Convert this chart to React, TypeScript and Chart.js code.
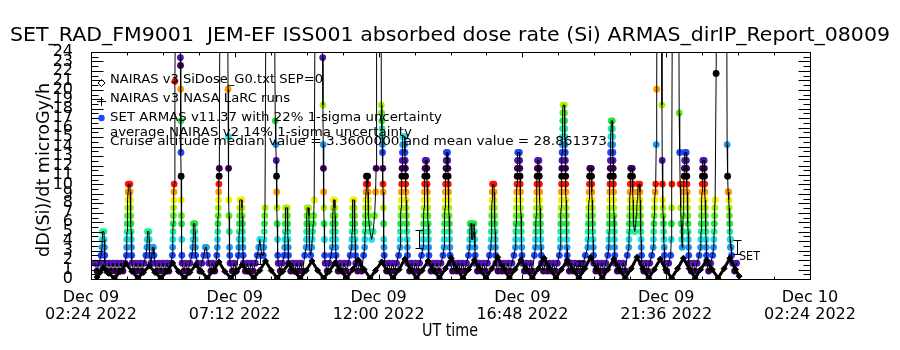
import React, { useEffect, useRef } from "react";
import { Chart, registerables } from "chart.js";

Chart.register(...registerables);

// ---------------- texts ----------------
const chartTitle = "SET_RAD_FM9001  JEM-EF ISS001 absorbed dose rate (Si) ARMAS_dirIP_Report_08009";
const yAxisTitle = "dD(Si)/dt microGy/h";
const xAxisTitle = "UT time";
const legendNairasG0 = "NAIRAS v3 SiDose_G0.txt SEP=0";
const legendNairasLarc = "NAIRAS v3 NASA LaRC runs";
const legendSet = "SET ARMAS v11.37 with 22% 1-sigma uncertainty";
const legendAverage = "average NAIRAS v2 14% 1-sigma uncertainty";
const legendCruise = "Cruise altitude median value = 3.3600000 and mean value = 28.861373";
const setLabel = "SET";

// ---------------- axes ----------------
// x values are minutes after Dec 09 02:24 UT
const xTickMinutes = [0, 288, 576, 864, 1152, 1440];
const xTickDates = ["Dec 09", "Dec 09", "Dec 09", "Dec 09", "Dec 09", "Dec 10"];
const xTickTimes = ["02:24 2022", "07:12 2022", "12:00 2022", "16:48 2022", "21:36 2022", "02:24 2022"];
const xMinorStepMin = 72;
const yRange = [0, 24];

// ---------------- SET ARMAS data: [minute, count level] ----------------
const DOSE_PER_COUNT = 0.836; // microGy/h per count level
const setCountsA: [number, number][] = [
  [8,2],[12,1],[16,2],[20,3],
  [22,4],[22.5,5],[23,6],[26,6],[26.5,5],[27,4],[27.5,3],[28,2],
  [32,1],[36,2],[40,1],[44,2],[48,1],[52,2],[56,1],[60,2],[64,1],[68,2],
  [71,3],[71.4,4],[71.8,5],[72.2,6],[72.6,7],[73,8],[73.4,9],[73.8,10],[74.2,11],[74.6,12],[78,12],[78.4,11],[78.8,10],[79.2,9],[79.6,8],[80,7],[80.4,6],[80.8,5],[81.2,4],[81.6,3],[82,2],
  [86,1],[90,2],[94,1],[98,2],[102,1],[106,2],[110,3],
  [112,4],[112.5,5],[113,6],[116,6],[116.5,5],[117,4],[117.5,3],[120,2],[122,3],[123,4],[125,4],[126,3],[128,2],
  [132,1],[136,2],[140,1],[144,2],[148,1],[152,2],[156,1],[160,2],
  [163,3],[163.4,4],[163.8,5],[164.2,6],[164.6,7],[165,8],[165.4,9],[165.8,10],[166.2,11],[166.6,12],[168,25],[170,40],[172,80],[174,120],[176,90],[178,40],[179,28],[179.3,27],[179.6,24],[179.9,20],[180.2,16],[180.5,13],[180.8,10],[181.1,8],[181.4,7],[181.7,5],[182,3],[182.4,2],
  [186,1],[190,2],[194,1],[198,2],[202,3],
  [204,4],[204.4,5],[204.8,6],[205.2,7],[208,7],[208.4,6],[208.8,5],[209.2,4],[209.6,3],
  [214,2],[218,1],[222,2],[226,3],[229,4],[231,4],[233,3],[236,2],
  [240,1],[244,2],[248,1],[252,3],
  [253,4],[253.4,5],[253.8,6],[254.2,7],[254.6,8],[255,9],[255.4,10],[255.8,11],[256.2,12],[256.6,13],[257,14],[259,50],[262,110],[266,150],[270,90],[273,45],[274.5,24],[275,18],[275.5,14],[276,10],[276.5,8],[277,6],[277.5,4],[278,3],[278.5,2],
  [283,1],[287,2],[291,1],[295,3],
  [296,4],[296.4,5],[296.8,6],[297.2,7],[297.6,8],[298,9],[298.4,10],[302,10],[302.4,9],[302.8,8],[303.2,7],[303.6,6],[304,5],[304.4,4],[304.8,3],[305.2,2],
  [309,1],[313,2],[317,1],[321,2],[325,1],[329,2],[333,3],[336,4],[338,5],[340,4],[342,3],
  [345,3],[346,4],[346.5,5],[347,6],[347.5,7],[348,8],[348.5,9],[351,45],[355,100],[360,130],[365,60],[369,20],[370,17],[371,15],[371.5,13],[372,11],[372.5,9],[373,7],[373.5,5],[374,3],[375,2],
  [379,1],[383,2],[387,3],
  [388,4],[388.4,5],[388.8,6],[389.2,7],[389.6,8],[390,9],[393,9],[393.4,8],[393.8,7],[394.2,6],[394.6,5],[395,4],[395.4,3],[395.8,2],
  [400,1],[404,2],[408,1],[412,2],[416,1],[420,2],[424,1],[428,3],
  [431,4],[431.4,5],[431.8,6],[432.2,7],[432.6,8],[433,9],[436,9],[436.4,8],[436.8,7],[437.2,6],[437.6,5],[438,4],[440,3],[442,4],[443,5],[444,6],[445,7],[446,8],[447,10],[449,40],[453,90],[458,120],[462,50],[464,28],[464.5,22],[465,17],[465.5,14],[466,11],[466.5,9],[467,7],[467.5,5],[468,3],[469,2],
];
const setCountsB: [number, number][] = [
  [473,1],[477,2],[481,3],
  [483,4],[483.4,5],[483.8,6],[484.2,7],[484.6,8],[485,9],[485.4,10],[488,10],[488.4,9],[488.8,8],[489.2,7],[489.6,6],[490,5],[490.4,4],[490.8,3],[491.2,2],
  [495,1],[499,2],[503,1],[507,2],[511,1],[515,2],[519,3],
  [522,4],[522.4,5],[522.8,6],[523.2,7],[523.6,8],[524,9],[524.4,10],[527,10],[527.4,9],[527.8,8],[528.2,7],[528.6,6],[529,5],[529.4,4],[529.8,3],[530.2,2],
  [534,1],[538,2],[542,1],[546,3],
  [548,4],[548.4,5],[548.8,6],[549.2,7],[549.6,8],[550,9],[550.4,10],[550.8,11],[551.2,12],[551.6,13],[554,13],[554.4,12],[554.8,11],[555.2,10],[555.6,9],[556,8],[557,7],[559,6],[562,5],[565,6],[568,8],[570,11],[571,14],[572,40],[576,100],[580,60],[581.5,22],[582,21],[582.4,20],[582.8,19],[583.2,18],[583.6,17],[584,16],[584.4,14],[584.8,12],[585.2,11],[585.6,9],[586,7],[586.4,5],[586.8,4],[587.2,3],[588,2],
  [592,1],[596,2],[600,1],[604,2],[608,1],[612,2],[616,3],
  [619,4],[619.4,5],[619.8,6],[620.2,7],[620.6,8],[621,9],[621.4,10],[621.8,11],[622.2,12],[622.6,13],[623,14],[623.4,15],[623.8,16],[624.2,17],[624.6,18],[628,18],[628.4,17],[628.8,16],[629.2,15],[629.6,14],[630,13],[630.4,12],[630.8,11],[631.2,10],[631.6,9],[632,8],[632.4,7],[632.8,6],[633.2,5],[633.6,4],[634,3],[634.4,2],
  [638,1],[642,2],[646,1],[650,2],[654,1],[658,2],[662,3],
  [665,4],[665.4,5],[665.8,6],[666.2,7],[666.6,8],[667,9],[667.4,10],[667.8,11],[668.2,12],[668.6,13],[669,14],[669.4,15],[672,15],[672.4,14],[672.8,13],[673.2,12],[673.6,11],[674,10],[674.4,9],[674.8,8],[675.2,7],[675.6,6],[676,5],[676.4,4],[676.8,3],[677.2,2],
  [681,1],[685,2],[689,1],[693,2],[697,1],[701,2],[705,3],
  [707,4],[707.4,5],[707.8,6],[708.2,7],[708.6,8],[709,9],[709.4,10],[709.8,11],[710.2,12],[710.6,13],[711,14],[711.4,15],[711.8,16],[714,16],[714.4,15],[714.8,14],[715.2,13],[715.6,12],[716,11],[716.4,10],[716.8,9],[717.2,8],[717.6,7],[718,6],[718.4,5],[718.8,4],[719.2,3],[719.6,2],
  [724,1],[728,2],[732,1],[736,2],[740,1],[744,2],[748,1],[752,2],[756,3],
  [758,4],[758.5,5],[759,6],[759.5,7],[762,7],[762.5,6],[763,5],[765,5],[766,6],[767,7],[768,6],[768.5,5],[769,4],[769.5,3],[770,2],
  [774,1],[778,2],[782,1],[786,2],[790,1],[794,2],[798,3],
  [801,4],[801.4,5],[801.8,6],[802.2,7],[802.6,8],[803,9],[803.4,10],[803.8,11],[804.2,12],[807,12],[807.4,11],[807.8,10],[808.2,9],[808.6,8],[809,7],[809.4,6],[809.8,5],[810.2,4],[810.6,3],[811,2],
  [815,1],[819,2],[823,1],[827,2],[831,1],[835,2],[839,1],[843,2],[847,3],
  [850,4],[850.4,5],[850.8,6],[851.2,7],[851.6,8],[852,9],[852.4,10],[852.8,11],[853.2,12],[853.6,13],[854,14],[854.4,15],[854.8,16],[858,16],[858.4,15],[858.8,14],[859.2,13],[859.6,12],[860,11],[860.4,10],[860.8,9],[861.2,8],[861.6,7],[862,6],[862.4,5],[862.8,4],[863.2,3],[863.6,2],
  [868,1],[872,2],[876,1],[880,2],[884,1],[888,3],
  [890,4],[890.4,5],[890.8,6],[891.2,7],[891.6,8],[892,9],[892.4,10],[892.8,11],[893.2,12],[893.6,13],[894,14],[894.4,15],[897,15],[897.4,14],[897.8,13],[898.2,12],[898.6,11],[899,10],[899.4,9],[899.8,8],[900.2,7],[900.6,6],[901,5],[901.4,4],[901.8,3],[902.2,2],
];
const setCountsC: [number, number][] = [
  [906,1],[910,2],[914,1],[918,2],[922,1],[926,2],[930,1],[934,2],[938,3],
  [940,4],[940.3,5],[940.6,6],[940.9,7],[941.2,8],[941.5,9],[941.8,10],[942.1,11],[942.4,12],[942.7,13],[943,14],[943.3,15],[943.6,16],[943.9,17],[944.2,18],[944.5,19],[944.8,20],[945.1,21],[945.4,22],[948,22],[948.3,21],[948.6,20],[948.9,19],[949.2,18],[949.5,17],[949.8,16],[950.1,15],[950.4,14],[950.7,13],[951,12],[951.3,11],[951.6,10],[951.9,9],[952.2,8],[952.5,7],[952.8,6],[953.1,5],[953.4,4],[953.7,3],[954,2],
  [958,1],[962,2],[966,1],[970,2],[974,1],[978,2],[982,1],[986,2],[990,3],
  [995,4],[995.4,5],[995.8,6],[996.2,7],[996.6,8],[997,9],[997.4,10],[997.8,11],[998.2,12],[998.6,13],[999,14],[1002,14],[1002.4,13],[1002.8,12],[1003.2,11],[1003.6,10],[1004,9],[1004.4,8],[1004.8,7],[1005.2,6],[1005.6,5],[1006,4],[1006.4,3],[1006.8,2],
  [1011,1],[1015,2],[1019,1],[1023,2],[1027,1],[1031,2],[1035,3],
  [1037,4],[1037.3,5],[1037.6,6],[1037.9,7],[1038.2,8],[1038.5,9],[1038.8,10],[1039.1,11],[1039.4,12],[1039.7,13],[1040,14],[1040.3,15],[1040.6,16],[1040.9,17],[1041.2,18],[1041.5,19],[1041.8,20],[1044,20],[1044.3,19],[1044.6,18],[1044.9,17],[1045.2,16],[1045.5,15],[1045.8,14],[1046.1,13],[1046.4,12],[1046.7,11],[1047,10],[1047.3,9],[1047.6,8],[1047.9,7],[1048.2,6],[1048.5,5],[1048.8,4],[1049.1,3],[1049.4,2],
  [1054,1],[1058,2],[1062,1],[1066,2],[1070,1],[1074,3],
  [1077,4],[1077.4,5],[1077.8,6],[1078.2,7],[1078.6,8],[1079,9],[1079.4,10],[1079.8,11],[1080.2,12],[1080.6,13],[1081,14],[1084,14],[1084.4,13],[1084.8,12],[1085.2,11],[1085.6,10],[1086,9],[1086.4,8],[1087,7],[1089,6],[1091,7],[1092,8],[1093,9],[1094,10],[1095,11],[1096,12],[1099,12],[1099.4,11],[1099.8,10],[1100.2,9],[1100.6,8],[1101,7],[1101.4,6],[1101.8,5],[1102.2,4],[1102.6,3],[1103,2],
  [1107,1],[1111,2],[1115,1],[1119,2],[1123,3],
  [1126,4],[1126.5,5],[1127,6],[1127.5,7],[1128,8],[1128.5,9],[1129,10],[1130,11],[1131,12],[1132,17],[1133,24],[1134,50],[1138,110],[1142,60],[1143.5,22],[1144,15],[1144.5,12],[1145,10],[1145.5,9],[1146,8],[1146.5,7],[1147,6],[1147.5,5],[1148,4],[1148.5,3],[1149,2],
  [1153,1],[1157,2],[1161,3],
  [1162,5],[1162.5,7],[1163,9],[1163.5,12],[1164,30],[1168,90],[1174,120],[1177,40],[1178,21],[1179,16],[1180,12],[1181,9],[1182,7],[1183,5],[1184,4],[1185,6],[1186,8],[1186.5,10],[1187,11],[1187.5,12],[1188,13],[1188.5,14],[1189,15],[1189.5,16],[1192,16],[1192.4,15],[1192.8,14],[1193.2,13],[1193.6,12],[1194,11],[1194.4,10],[1194.8,9],[1195.2,8],[1195.6,7],[1196,6],[1196.4,5],[1196.8,4],[1197.2,3],[1197.6,2],
  [1202,1],[1206,2],[1210,1],[1214,2],[1218,3],
  [1221,4],[1221.4,5],[1221.8,6],[1222.2,7],[1222.6,8],[1223,9],[1223.4,10],[1223.8,11],[1224.2,12],[1224.6,13],[1225,14],[1225.4,15],[1228,15],[1228.4,14],[1228.8,13],[1229.2,12],[1229.6,11],[1230,10],[1230.4,9],[1230.8,8],[1231.2,7],[1231.6,6],[1232,5],[1232.4,4],[1232.8,3],[1233.2,2],
  [1237,1],[1241,2],[1245,3],
  [1247,4],[1247.5,5],[1248,6],[1248.5,7],[1249,8],[1249.5,9],[1250,10],[1252,26],[1256,60],[1262,130],[1268,90],[1273,40],[1274,17],[1275,13],[1276,11],[1277,11],[1277.5,10],[1278,9],[1278.5,8],[1279,7],[1279.5,6],[1280,5],[1280.5,4],[1281,5],[1282,4],[1283,3],[1285,2],[1289,1],[1293,2],
];

// ---------------- NAIRAS v3 model (microGy/h) ----------------
const nairasA: [number, number][] = [
  [12,0.2],[18,0.7],[24,1.2],[35,0.6],[47,0.1],[59,0.8],[70.5,1.6],[82,0.8],[94,0.1],[105,0.7],[117,1.4],[128,0.7],
  [140,0.1],[152,0.8],[163.5,1.7],[175,0.8],[187,0.1],[198,0.7],[210,1.5],[221,0.8],[233,0.1],[245,0.9],[256.5,1.8],[268,0.8],
  [280,0.1],[291,0.8],[303,1.5],[314,0.8],[326,0.1],[338,0.9],[349.5,1.9],[361,0.9],[373,0.1],[384,0.8],[396,1.6],[407,0.8],
  [419,0.1],[431,0.9],[442.5,1.9],[454,0.9],[466,0.1],[477,0.8],[489,1.7],[500,0.9],[512,0.1],[524,1.0],[535.5,2.0],[547,1.0],
  [559,0.1],[570,0.9],[582,1.8],[593,0.9],[605,0.1],[617,1.0],[628.5,2.1],[640,1.0],
];
const nairasB: [number, number][] = [
  [652,0.1],[663,0.9],[675,1.9],[686,0.9],[698,0.1],[710,1.1],[721.5,2.2],[733,1.0],[745,0.1],[756,1.0],[768,2.0],[779,1.0],
  [791,0.1],[803,1.1],[814.5,2.3],[826,1.1],[838,0.1],[849,1.0],[861,2.0],[872,1.0],[884,0.1],[896,1.1],[907.5,2.2],[919,1.1],
  [931,0.1],[942,1.0],[954,2.0],[965,1.0],[977,0.1],[989,1.1],[1000.5,2.3],[1012,1.1],[1024,0.1],[1035,1.0],[1047,2.1],[1058,1.0],
  [1070,0.1],[1082,1.1],[1093.5,2.3],[1105,1.1],[1117,0.1],[1128,1.0],[1140,2.1],[1151,1.0],[1163,0.1],[1175,1.1],[1186.5,2.2],[1198,1.1],
  [1210,0.1],[1221,1.0],[1233,2.0],[1244,1.0],[1256,0.1],[1268,1.1],[1279.5,2.2],[1291,1.0],[1298,0.3],
];

// ---------------- uncertainty bars ----------------
const errMinutes = [338, 657, 979, 1294];
const errLow = [1.6, 3.3, 1.4, 2.62];
const errHigh = [2.6, 5.2, 1.9, 4.1];

// colour table cycling with count level
const levelColors = [
  "#3c005a", "#5014b4", "#1e46ff", "#1e9bf0", "#1ee1e1", "#1ef096", "#1ee646",
  "#5af01e", "#aaf000", "#f0f000", "#ff9b00", "#ff1400", "#000000",
];

const FONT = '"DejaVu Sans", "Liberation Sans", sans-serif';

function drawFitted(
  ctx: CanvasRenderingContext2D, text: string, x: number, y: number,
  width: number, size: number, align: CanvasTextAlign, angle = 0
) {
  ctx.save();
  ctx.font = `${size}px ${FONT}`;
  const w = ctx.measureText(text).width || 1;
  ctx.translate(x, y);
  if (angle) ctx.rotate(angle);
  ctx.scale(width / w, 1);
  ctx.textAlign = align;
  ctx.textBaseline = "middle";
  ctx.fillStyle = "#000";
  ctx.fillText(text, 0, 0);
  ctx.restore();
}

function seg(ctx: CanvasRenderingContext2D, x1: number, y1: number, x2: number, y2: number) {
  ctx.beginPath();
  ctx.moveTo(x1, y1);
  ctx.lineTo(x2, y2);
  ctx.stroke();
}

const idlFrame = {
  id: "idlFrame",
  afterDatasetsDraw(chart: any) {
    const { ctx, scales } = chart;
    const xs = scales.x, ys = scales.y;
    ctx.save();
    ctx.strokeStyle = "#000";
    ctx.lineWidth = 1;
    errMinutes.forEach((m, i) => {
      const px = Math.round(xs.getPixelForValue(m)) + 0.5;
      const p1 = ys.getPixelForValue(errLow[i]);
      const p2 = ys.getPixelForValue(errHigh[i]);
      seg(ctx, px, p1, px, p2);
      seg(ctx, px - 4, Math.round(p1) + 0.5, px + 4, Math.round(p1) + 0.5);
      seg(ctx, px - 4, Math.round(p2) + 0.5, px + 4, Math.round(p2) + 0.5);
    });
    ctx.restore();
  },
  afterDraw(chart: any) {
    const { ctx, chartArea: a, scales } = chart;
    const xs = scales.x, ys = scales.y;
    ctx.save();
    ctx.strokeStyle = "#000";
    ctx.lineWidth = 1;
    const L = Math.round(a.left) + 0.5, R = Math.round(a.right) + 0.5;
    const T = Math.round(a.top) + 0.5, B = Math.round(a.bottom) + 0.5;
    ctx.strokeRect(L, T, R - L, B - T);
    // x ticks (major + minor), pointing inwards on bottom and top
    for (let m = xs.min; m <= xs.max + 1e-6; m += xMinorStepMin) {
      const px = Math.round(xs.getPixelForValue(m)) + 0.5;
      const major = xTickMinutes.indexOf(m) >= 0;
      const len = major ? 5 : 3;
      seg(ctx, px, B, px, B - len);
      seg(ctx, px, T, px, T + len);
    }
    // y ticks
    for (let v = yRange[0]; v <= yRange[1] + 1e-6; v += 0.5) {
      const py = Math.round(ys.getPixelForValue(v)) + 0.5;
      const len = Number.isInteger(v) ? 12 : 7;
      seg(ctx, L, py, L + len, py);
      seg(ctx, R, py, R - len, py);
    }
    // titles
    drawFitted(ctx, chartTitle, 450, 36, 880, 20, "center");
    drawFitted(ctx, yAxisTitle, 45, 170, 174, 17, "center", -Math.PI / 2);
    drawFitted(ctx, xAxisTitle, 450, 332, 56, 17, "center");
    // legend
    drawFitted(ctx, legendNairasG0, 110, 80, 213, 13, "left");
    drawFitted(ctx, legendNairasLarc, 110, 99, 180, 13, "left");
    drawFitted(ctx, legendSet, 110, 118, 332, 13, "left");
    drawFitted(ctx, legendAverage, 110, 133, 302, 13, "left");
    drawFitted(ctx, legendCruise, 110, 142, 497, 13, "left");
    // legend symbols
    ctx.beginPath();
    ctx.moveTo(101.5, 79.5); ctx.lineTo(105, 83); ctx.lineTo(101.5, 86.5); ctx.lineTo(98, 83); ctx.closePath();
    ctx.stroke();
    seg(ctx, 97, 101.5, 106, 101.5);
    seg(ctx, 101.5, 97, 101.5, 106);
    ctx.fillStyle = levelColors[2];
    ctx.beginPath();
    ctx.arc(101.5, 118, 3.2, 0, Math.PI * 2);
    ctx.fill();
    // SET label next to its bar
    drawFitted(ctx, setLabel, 739, 257, 21, 12, "left");
    ctx.restore();
  },
};

const toPoints = (rows: [number, number][]) =>
  rows.map(([t, c]) => ({ x: t, y: c * DOSE_PER_COUNT, c }));

export default function App() {
  const ref = useRef<HTMLCanvasElement | null>(null);

  useEffect(() => {
    if (!ref.current) return;
    const setPoints = [...toPoints(setCountsA), ...toPoints(setCountsB), ...toPoints(setCountsC)];
    const nairasPoints = [...nairasA, ...nairasB].map(([t, v]) => ({ x: t, y: v }));

    const chart = new Chart(ref.current, {
      type: "scatter",
      data: {
        datasets: [
          {
            label: "SET ARMAS",
            data: setPoints,
            showLine: false,
            pointRadius: 3.4,
            pointBorderWidth: 0,
            pointBackgroundColor: (c: any) =>
              c.raw && c.raw.c ? levelColors[(c.raw.c - 1) % levelColors.length] : "#000",
            order: 2,
          } as any,
          {
            label: "SET line",
            data: setPoints,
            showLine: true,
            borderColor: "#000",
            borderWidth: 1,
            pointRadius: 0,
            order: 1,
          } as any,
          {
            label: "NAIRAS v3",
            data: nairasPoints,
            showLine: true,
            borderColor: "#000",
            borderWidth: 3,
            pointStyle: "rectRot",
            pointRadius: 3,
            pointBackgroundColor: "#000",
            pointBorderColor: "#000",
            pointBorderWidth: 1,
            order: 0,
          } as any,
        ],
      },
      options: {
        animation: false,
        responsive: false,
        events: [],
        layout: { padding: { top: 52, right: 90, bottom: 0, left: 0 } },
        plugins: { legend: { display: false }, tooltip: { enabled: false }, title: { display: false } },
        scales: {
          x: {
            type: "linear",
            min: xTickMinutes[0],
            max: xTickMinutes[xTickMinutes.length - 1],
            grid: { display: false },
            border: { display: false },
            afterBuildTicks: (s: any) => {
              s.ticks = xTickMinutes.map((v) => ({ value: v }));
            },
            afterFit: (s: any) => {
              s.height = 71;
            },
            ticks: {
              autoSkip: false,
              maxRotation: 0,
              minRotation: 0,
              padding: 2,
              color: "#000",
              font: { family: FONT, size: 16, lineHeight: 1.06 },
              callback: (_v: any, i: number) => [xTickDates[i], xTickTimes[i]],
            },
          },
          y: {
            type: "linear",
            min: yRange[0],
            max: yRange[1],
            grid: { display: false },
            border: { display: false },
            afterFit: (s: any) => {
              s.width = 91;
            },
            ticks: {
              stepSize: 1,
              autoSkip: false,
              padding: 10,
              color: "#000",
              font: { family: FONT, size: 16 },
              callback: (v: any) => String(v),
            },
          },
        },
      } as any,
      plugins: [idlFrame],
    });
    return () => chart.destroy();
  }, []);

  return (
    <div style={{ position: "absolute", left: 0, top: 0, width: 900, height: 350, background: "#fff" }}>
      <canvas ref={ref} width={900} height={350} style={{ display: "block" }} />
    </div>
  );
}
